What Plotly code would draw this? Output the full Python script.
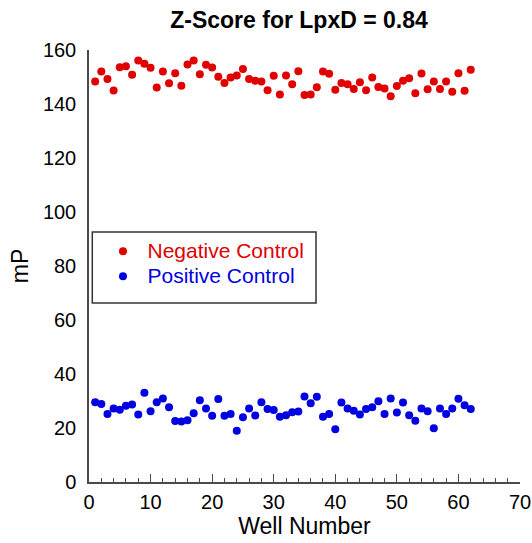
import plotly.graph_objects as go

wells = list(range(1, 63))

negative_control = [
    148.3, 152.0, 149.3, 145.0, 153.6, 154.0, 150.8, 156.1, 154.9, 153.4,
    146.1, 152.0, 147.7, 151.4, 146.8, 154.6, 156.1, 151.0, 154.5, 153.5,
    150.1, 147.8, 149.8, 150.6, 153.0, 149.3, 148.6, 148.3, 145.1, 150.5,
    143.5, 150.6, 147.3, 152.1, 143.3, 143.5, 146.2, 152.0, 151.2, 145.3,
    147.8, 147.3, 145.6, 148.1, 145.1, 149.8, 146.3, 145.7, 142.9, 146.7,
    148.6, 149.5, 144.0, 151.3, 145.5, 148.3, 145.6, 148.3, 144.5, 151.4,
    144.9, 152.7,
]

positive_control = [
    29.5, 28.9, 25.2, 27.2, 26.8, 28.2, 28.7, 25.0, 33.1, 26.2,
    29.5, 30.9, 27.7, 22.6, 22.4, 22.9, 25.5, 30.3, 27.2, 24.5,
    30.7, 24.5, 25.2, 19.0, 24.0, 27.2, 24.6, 29.5, 27.0, 26.7,
    24.2, 24.7, 25.8, 26.1, 31.7, 29.2, 31.6, 24.2, 25.2, 19.5,
    29.4, 27.2, 26.4, 25.0, 27.0, 27.7, 29.9, 25.2, 30.9, 25.7,
    29.4, 24.7, 22.7, 27.2, 26.2, 19.9, 27.2, 25.2, 27.2, 30.8,
    28.4, 27.0,
]

x_ticks = [0, 10, 20, 30, 40, 50, 60, 70]
y_ticks = [0, 20, 40, 60, 80, 100, 120, 140, 160]

FONT = "Liberation Sans, Arial, sans-serif"
AXIS_COLOR = "#4a4a4a"
RED = "#e00000"
BLUE = "#0000e0"

fig = go.Figure()
fig.add_trace(go.Scatter(
    x=wells, y=negative_control, mode="markers",
    name=f'<span style="color:{RED};font-size:21px">Negative Control</span>',
    marker=dict(color=RED, size=8, line=dict(width=0)),
))
fig.add_trace(go.Scatter(
    x=wells, y=positive_control, mode="markers",
    name=f'<span style="color:{BLUE};font-size:21px">Positive Control</span>',
    marker=dict(color=BLUE, size=8, line=dict(width=0)),
))

fig.update_layout(
    width=532, height=543,
    margin=dict(l=89, r=12, t=50, b=61, autoexpand=False),
    paper_bgcolor="white", plot_bgcolor="white",
    font=dict(family=FONT, color="black", size=20),
    title=dict(
        text="<b>Z-Score for LpxD = 0.84</b>",
        x=299 / 532, xanchor="center", xref="container",
        y=1 - 20 / 543, yanchor="middle", yref="container",
        font=dict(size=23, color="black", family=FONT),
    ),
    showlegend=True,
    legend=dict(
        x=0.022, y=0.575, xanchor="left", yanchor="top",
        bgcolor="rgba(0,0,0,0)", borderwidth=0,
        font=dict(size=17, family=FONT),
        itemwidth=39,
        tracegroupgap=0,
    ),
    shapes=[dict(
        type="rect", xref="paper", yref="paper",
        x0=(92.3 - 89) / 431, x1=(316 - 89) / 431,
        y0=(482 - 303.3) / 431.5, y1=(482 - 232.3) / 431.5,
        line=dict(color="#333333", width=1.5), fillcolor="rgba(0,0,0,0)",
        layer="below",
    )],
)

fig.update_xaxes(
    range=[0, 70], tickvals=x_ticks, ticktext=[str(v) for v in x_ticks],
    automargin=False,
    showline=True, linecolor=AXIS_COLOR, linewidth=1.5, mirror=False,
    showgrid=False, zeroline=False,
    ticks="inside", ticklen=8, tickcolor=AXIS_COLOR, tickwidth=1,
    minor=dict(dtick=2, tick0=0, ticks="inside", ticklen=4, tickcolor=AXIS_COLOR, tickwidth=1, showgrid=False),
    ticklabelstandoff=1,
    tickfont=dict(size=20),
    title=dict(text="Well Number", font=dict(size=23), standoff=6),
)
fig.update_yaxes(
    range=[0, 160], tickvals=y_ticks, ticktext=[str(v) for v in y_ticks],
    automargin=False,
    showline=True, linecolor=AXIS_COLOR, linewidth=1.5, mirror=False,
    showgrid=False, zeroline=False, ticks="",
    ticklabelstandoff=7,
    tickfont=dict(size=20),
    title=dict(text="mP", font=dict(size=23), standoff=8),
)

fig.write_html("out.html")
